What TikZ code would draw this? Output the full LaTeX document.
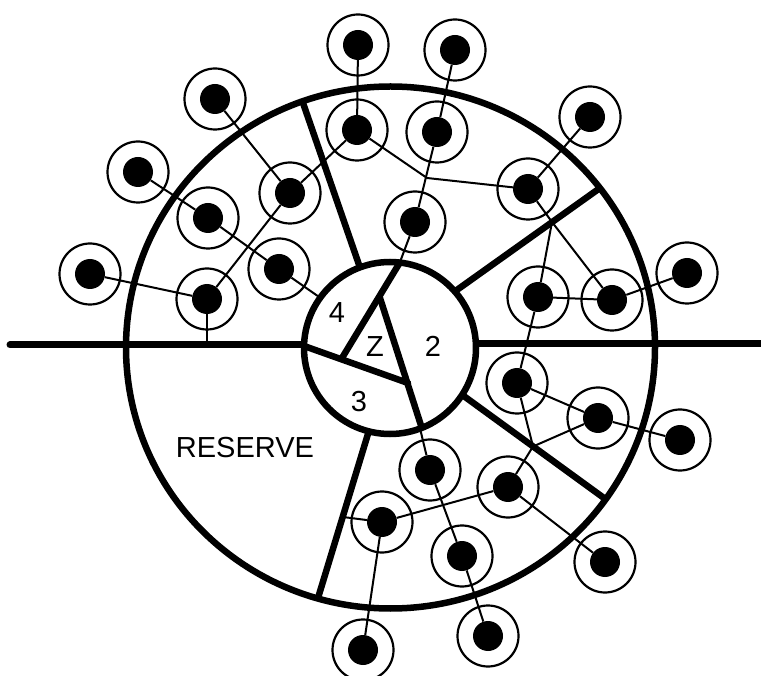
\documentclass[tikz,border=0pt]{standalone}
\usepackage{fontspec}
\setmainfont{Liberation Sans}
\begin{document}
\begin{tikzpicture}[x=1pt,y=-1pt,
  wire/.style={line width=2pt},
  heavy/.style={line width=6.5pt},
  dot/.style={circle,fill=black,inner sep=0pt,minimum size=30pt},
  ring/.style={line width=2.2pt},
  lab/.style={font=\fontsize{29}{29}\selectfont,inner sep=0pt}]
\useasboundingbox (0,0) rectangle (761,676);

% stations
\node[dot] (A) at (215,99) {};
\node[dot] (B) at (138,172) {};
\node[dot] (C) at (208,218) {};
\node[dot] (D) at (290,193) {};
\node[dot] (E) at (279,269) {};
\node[dot] (F) at (90,274) {};
\node[dot] (G) at (207,299) {};
\node[dot] (H) at (357,130) {};
\node[dot] (I) at (358,45) {};
\node[dot] (J) at (455,50) {};
\node[dot] (K) at (437,132) {};
\node[dot] (L) at (415,222) {};
\node[dot] (M) at (528,189) {};
\node[dot] (N) at (590,117) {};
\node[dot] (O) at (538,297) {};
\node[dot] (P) at (612,300) {};
\node[dot] (Q) at (687,273) {};
\node[dot] (R) at (517,383) {};
\node[dot] (S) at (598,418) {};
\node[dot] (T) at (680,440) {};
\node[dot] (U) at (430,470) {};
\node[dot] (V) at (508,487) {};
\node[dot] (W) at (462,556) {};
\node[dot] (X) at (605,562) {};
\node[dot] (Y) at (488,636) {};
\node[dot] (Zn) at (382,522) {};
\node[dot] (BL) at (363,650) {};

% junction points
\coordinate (jKL) at (427,178);
\coordinate (jD2) at (552,222);
\coordinate (jD3) at (533,446.5);
\coordinate (hG) at (207,345);
\coordinate (dZ) at (343,517);
\coordinate (iE) at (322,299);
\coordinate (iL) at (397,270);
\coordinate (iU) at (418,420);

% connectors
\draw[wire] (A) -- (D);
\draw[wire] (B) -- (C) -- (E) -- (iE);
\draw[wire] (F) -- (G) -- (D) -- (H) -- (I);
\draw[wire] (G) -- (hG);
\draw[wire] (J) -- (K) -- (L) -- (iL);
\draw[wire] (H) -- (jKL) -- (M);
\draw[wire] (N) -- (M) -- (jD2) -- (P);
\draw[wire] (jD2) -- (O);
\draw[wire] (O) -- (P) -- (Q);
\draw[wire] (O) -- (R) -- (S) -- (T);
\draw[wire] (R) -- (jD3) -- (V);
\draw[wire] (jD3) -- (S);
\draw[wire] (V) -- (X);
\draw[wire] (V) -- (Zn) -- (dZ);
\draw[wire] (Zn) -- (BL);
\draw[wire] (iU) -- (U) -- (W) -- (Y);

% rings
\foreach \n in {A,B,C,D,E,F,G,H,I,J,K,L,M,N,O,P,Q,R,S,T,U,V,W,X,Y,Zn,BL}
  \draw[ring] (\n) circle[radius=30.5pt];

% horizontal line and dividers
\draw[line width=7pt,line cap=round] (10,345) -- (306,345);
\draw[line width=7pt] (470,344) -- (765,344);
\draw[heavy] (302.5,101.5) -- (366,285);
\draw[heavy] (600,188) -- (440,302);
\draw[heavy] (606,499.5) -- (450,386);
\draw[heavy] (318,598) -- (370.7,425);

% inner circle
\fill[white] (390,348) circle[radius=86pt];
\begin{scope}
  \clip (390,348) circle[radius=86pt];
  \draw[heavy,line cap=round] (342,358) -- (405,254);
  \draw[heavy,line cap=round] (380,298) -- (426,441);
  \draw[heavy,line cap=round] (290,341) -- (408,383);
\end{scope}
\draw[heavy] (390,348) circle[radius=86pt];

% outer circle
\draw[heavy] (390.5,347.5) ellipse[x radius=264.5pt, y radius=261pt];

% labels
\node[lab] (l4) at (337,313) {4};
\node[lab] (lZ) at (375,347) {Z};
\node[lab] (l2) at (433,346) {2};
\node[lab] (l3) at (359,402) {3};
\node[font=\fontsize{29}{29}\selectfont,inner sep=0pt] (res) at (245,448) {RESERVE};
\end{tikzpicture}
\end{document}
